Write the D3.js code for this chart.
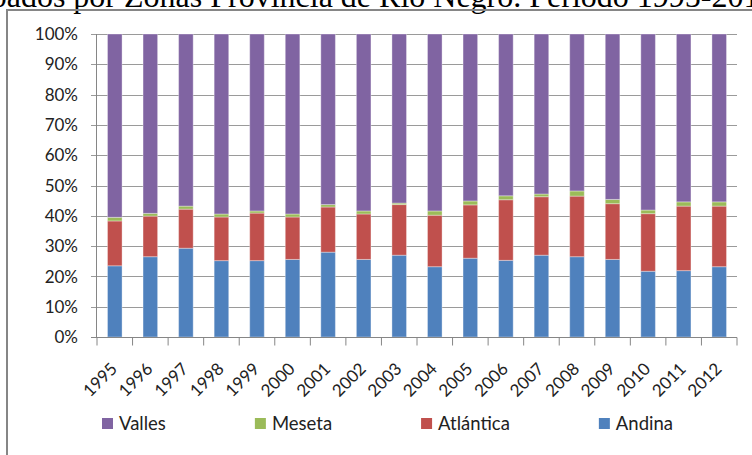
<!DOCTYPE html>
<meta charset="utf-8">
<script src="https://d3js.org/d3.v7.min.js"></script>
<style>
  body { margin: 0; background: #fff; }
  text { font-family: Lato, "Liberation Sans", sans-serif; fill: #222; }
</style>
<div id="chart"></div>
<script>

    // data (share of each zone, %)
    var years = ["1995", "1996", "1997", "1998", "1999", "2000", "2001", "2002", "2003",
        "2004", "2005", "2006", "2007", "2008", "2009", "2010", "2011", "2012"];
    var andina = [23.5, 26.5, 29.3, 25.2, 25.2, 25.6, 28.0, 25.6, 27.0, 23.2, 26.0, 25.3, 27.0, 26.5, 25.6, 21.7, 21.9, 23.2];
    var atlantica = [14.8, 13.4, 12.9, 14.4, 15.7, 14.0, 14.9, 15.0, 16.7, 17.0, 17.6, 20.0, 19.3, 20.0, 18.4, 19.0, 21.3, 20.0];
    var meseta = [1.2, 0.9, 1.0, 1.0, 0.7, 1.0, 0.8, 1.0, 0.5, 1.4, 1.3, 1.3, 0.9, 1.7, 1.4, 1.2, 1.4, 1.4];
    var valles = [60.5, 59.2, 56.8, 59.4, 58.4, 59.4, 56.3, 58.4, 55.8, 58.4, 55.1, 53.4, 52.8, 51.8, 54.6, 58.1, 55.4, 55.4];

    var series = ["Andina", "Atlántica", "Meseta", "Valles"];
    var legendOrder = ["Valles", "Meseta", "Atlántica", "Andina"];
    var yTicks = [0, 0.1, 0.2, 0.3, 0.4, 0.5, 0.6, 0.7, 0.8, 0.9, 1];
    var title = "Ocupados por Zonas Provincia de Río Negro. Período 1995-2012";

    var colors = { "Andina": "#4F81BD", "Atlántica": "#C0504D", "Meseta": "#9BBB59", "Valles": "#8064A2" };

    var rows = years.map(function (y, i) {
        return { year: y, "Andina": andina[i], "Atlántica": atlantica[i], "Meseta": meseta[i], "Valles": valles[i] };
    });

    var W = 752, H = 455;
    var margin = { top: 34, right: 15, bottom: 118, left: 97 },
        width = W - margin.left - margin.right,
        height = H - margin.top - margin.bottom;

    var root = d3.select("#chart").append("svg")
        .attr("width", W)
        .attr("height", H);

    // title, clipped by the top of the picture
    var t = root.append("text")
        .attr("y", 7)
        .style("font-family", "'Liberation Serif', 'Times New Roman', serif")
        .style("font-size", "32px")
        .style("fill", "#000")
        .text(title);
    var pre = title.indexOf("Zonas");
    t.attr("x", 124 - t.node().getSubStringLength(0, pre));

    // chart frame (runs past the right and bottom edges)
    root.append("rect")
        .attr("x", 7).attr("y", 10)
        .attr("width", 800).attr("height", 500)
        .attr("fill", "none")
        .attr("stroke", "#868686")
        .attr("stroke-width", 2);

    var svg = root.append("g")
        .attr("transform", "translate(" + margin.left + "," + margin.top + ")");

    var x = d3.scaleBand()
        .domain(years)
        .range([0, width])
        .paddingInner(0.59)
        .paddingOuter(0.295);

    var y = d3.scaleLinear()
        .domain([0, 1])
        .range([height, 0]);

    // gridlines
    svg.append("g")
        .selectAll("line")
        .data(yTicks)
        .enter().append("line")
        .attr("x1", -6).attr("x2", width)
        .attr("y1", function (d) { return Math.round(y(d)) + 0.5; })
        .attr("y2", function (d) { return Math.round(y(d)) + 0.5; })
        .attr("stroke", "#9a9a9a");

    // y labels
    svg.append("g")
        .selectAll("text")
        .data(yTicks)
        .enter().append("text")
        .attr("x", -19)
        .attr("y", function (d) { return y(d); })
        .attr("dy", "0.36em")
        .attr("text-anchor", "end")
        .style("font-size", "17px")
        .text(d3.format(".0%"));

    // stacked bars
    var stacked = d3.stack()
        .keys(series)
        .offset(d3.stackOffsetExpand)(rows);

    svg.selectAll("g.layer")
        .data(stacked)
        .enter().append("g")
        .attr("class", "layer")
        .attr("fill", function (d) { return colors[d.key]; })
        .selectAll("rect")
        .data(function (d) { return d; })
        .enter().append("rect")
        .attr("x", function (d) { return x(d.data.year); })
        .attr("width", x.bandwidth())
        .attr("y", function (d) { return y(d[1]); })
        .attr("height", function (d) { return y(d[0]) - y(d[1]); })
        .attr("stroke", "#fff")
        .attr("stroke-opacity", 0.35)
        .attr("stroke-width", 1);

    // y axis line
    svg.append("line")
        .attr("x1", -0.5).attr("x2", -0.5)
        .attr("y1", 0).attr("y2", height)
        .attr("stroke", "#868686");

    // x axis with ticks between categories
    var step = x.step();
    var x0 = x(years[0]) - x.paddingInner() * step / 2;
    var xa = svg.append("g").attr("transform", "translate(0," + (Math.round(height) + 0.5) + ")");
    xa.append("line")
        .attr("x1", -6).attr("x2", width)
        .attr("stroke", "#868686");
    xa.selectAll("line.tick")
        .data(d3.range(years.length + 1))
        .enter().append("line")
        .attr("class", "tick")
        .attr("x1", function (i) { return x0 + i * step; })
        .attr("x2", function (i) { return x0 + i * step; })
        .attr("y1", 0).attr("y2", 8)
        .attr("stroke", "#868686");

    xa.selectAll("text")
        .data(years)
        .enter().append("text")
        .attr("text-anchor", "end")
        .attr("transform", function (d) {
            return "translate(" + (x(d) + x.bandwidth() / 2 - 5) + ",24) rotate(-45)";
        })
        .attr("dy", "0.7em")
        .style("font-size", "17px")
        .text(function (d) { return d; });

    // legend, items separated by an equal gap
    var lg = root.append("g").attr("transform", "translate(102,418)");
    var lx = 0;
    legendOrder.forEach(function (k) {
        var item = lg.append("g").attr("transform", "translate(" + lx + ",0)");
        item.append("rect")
            .attr("width", 11).attr("height", 11)
            .attr("fill", colors[k]);
        var tx = item.append("text")
            .attr("x", 17).attr("y", 5.5)
            .attr("dy", "0.36em")
            .style("font-size", "18.5px")
            .text(k);
        lx += 17 + tx.node().getComputedTextLength() + 89;
    });

</script>
